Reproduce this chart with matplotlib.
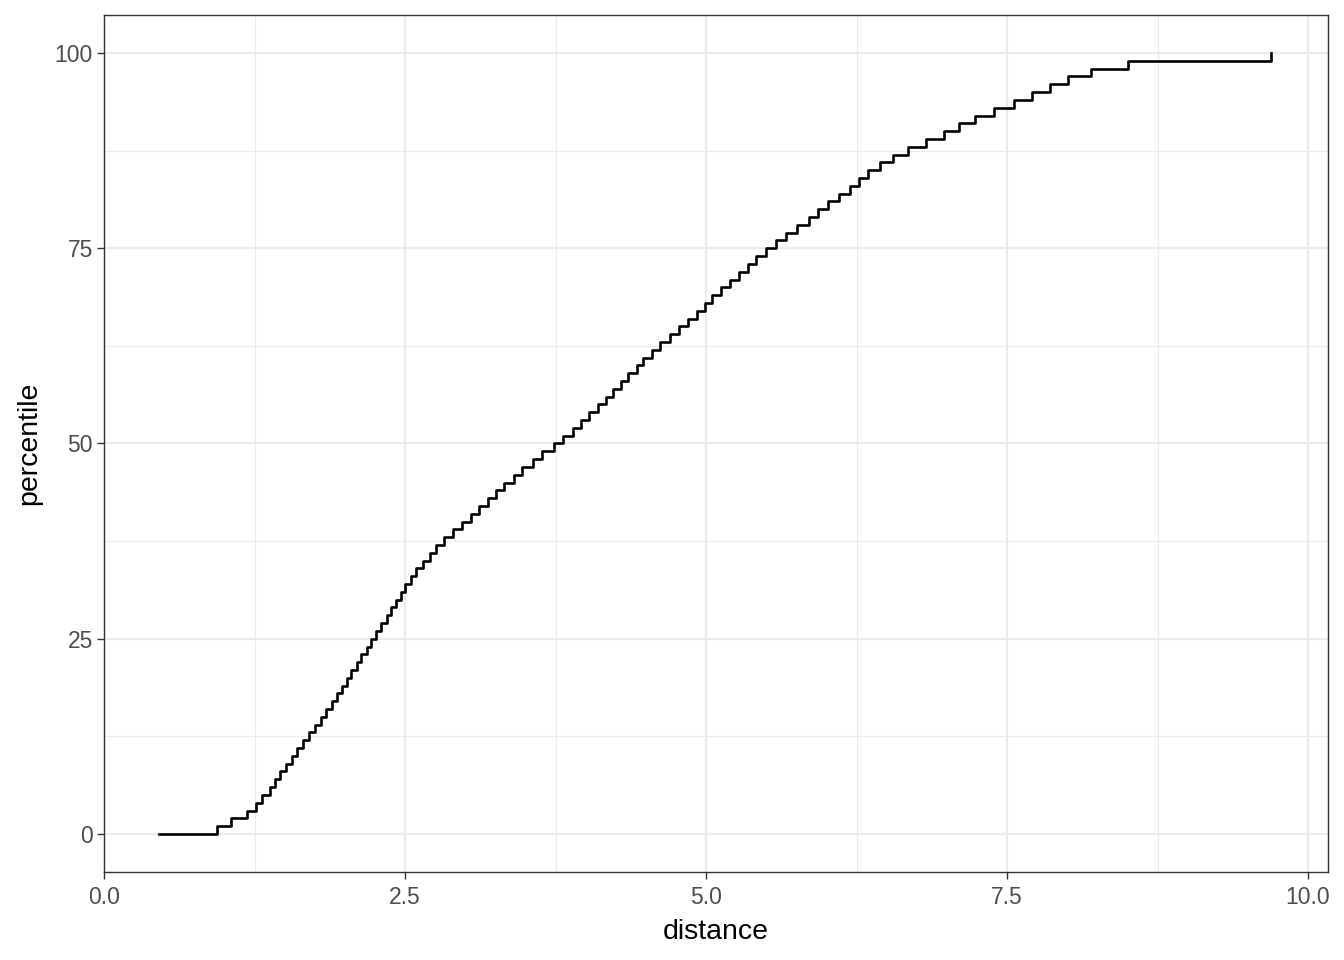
import matplotlib
matplotlib.use("Agg")
import matplotlib.pyplot as plt
import numpy as np

distance = [0.457, 0.941, 1.055, 1.190, 1.259, 1.309, 1.379, 1.420, 1.462, 1.509,
            1.559, 1.603, 1.655, 1.705, 1.752, 1.799, 1.844, 1.891, 1.938, 1.974,
            2.016, 2.051, 2.098, 2.134, 2.187, 2.215, 2.259, 2.303, 2.348, 2.385,
            2.425, 2.464, 2.500, 2.547, 2.591, 2.647, 2.708, 2.757, 2.827, 2.896,
            2.971, 3.045, 3.115, 3.192, 3.253, 3.326, 3.406, 3.473, 3.566, 3.635,
            3.740, 3.815, 3.898, 3.962, 4.031, 4.106, 4.169, 4.230, 4.291, 4.355,
            4.424, 4.476, 4.548, 4.617, 4.700, 4.777, 4.852, 4.927, 4.991, 5.047,
            5.122, 5.199, 5.277, 5.351, 5.415, 5.498, 5.581, 5.667, 5.758, 5.857,
            5.932, 6.015, 6.106, 6.200, 6.272, 6.347, 6.444, 6.555, 6.679, 6.824,
            6.977, 7.104, 7.237, 7.388, 7.554, 7.706, 7.858, 8.010, 8.195, 8.505,
            9.695]
percentile = list(range(0, 101))

x_ticks = [0.0, 2.5, 5.0, 7.5, 10.0]
x_labels = ["0.0", "2.5", "5.0", "7.5", "10.0"]
y_ticks = [0, 25, 50, 75, 100]
y_labels = ["0", "25", "50", "75", "100"]

plt.rcParams['font.family'] = ['Liberation Sans', 'DejaVu Sans']

fig = plt.figure(figsize=(13.44, 9.6), dpi=100)
ax = fig.add_axes([104/1344, 1 - 872/960, (1328-104)/1344, (872-15)/960])

ax.set_xlim(0, 10.166)
ax.set_ylim(-4.87, 104.87)

# grid
for v in np.arange(1.25, 10.2, 2.5):
    ax.axvline(v, color='#EBEBEB', lw=0.8, zorder=0)
for v in np.arange(12.5, 100, 25):
    ax.axhline(v, color='#EBEBEB', lw=0.8, zorder=0)
for v in x_ticks:
    ax.axvline(v, color='#EBEBEB', lw=1.6, zorder=0)
for v in y_ticks:
    ax.axhline(v, color='#EBEBEB', lw=1.6, zorder=0)

ax.step(distance, percentile, where='post', color='black', lw=1.9, zorder=3)

ax.set_xticks(x_ticks)
ax.set_xticklabels(x_labels)
ax.set_yticks(y_ticks)
ax.set_yticklabels(y_labels)
ax.tick_params(axis='both', colors='#333333', length=5, width=1.0,
               labelsize=16.5, labelcolor='#4D4D4D', pad=3)
ax.tick_params(axis='x', pad=5)

for s in ax.spines.values():
    s.set_color('#333333')
    s.set_linewidth(1.0)

ax.set_xlabel('distance', fontsize=20.5, color='black', labelpad=7)
ax.set_ylabel('percentile', fontsize=20.5, color='black', labelpad=9)

fig.savefig('out.png', dpi=100)
